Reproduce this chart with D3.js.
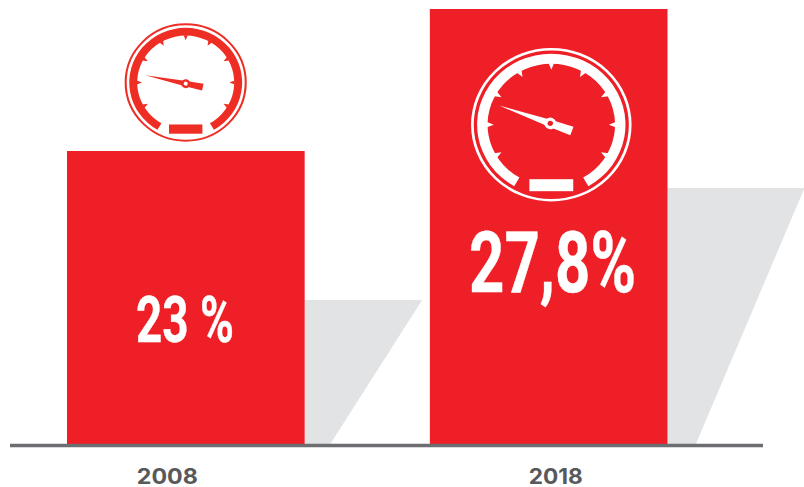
<!DOCTYPE html>
<html><head><meta charset="utf-8">
<script src="https://cdnjs.cloudflare.com/ajax/libs/d3/7.8.5/d3.min.js"></script>
<style>html,body{margin:0;padding:0;background:#fff}svg{display:block}</style>
</head><body><svg id="c" width="804" height="487"></svg>
<script>
const years = ["2008", "2018"];
const values = [23, 27.8];
const valueLabels = ["23 %", "27,8%"];
const shadowValues = [17.96, 21.75];
const needleAngles = [12, 20];

const svg = d3.select("#c");
const baseY = 445;
const x = d3.scaleBand().domain(years).range([67, 667.5]).paddingInner(0.345);
const y = d3.scaleLinear().domain([23, 27.8]).range([151, 9]);

// grey shadows
const shadowReach = [117.5, 137], shadowFoot = [25, 28];
svg.selectAll("path.shadow").data(years).join("path").attr("class", "shadow")
  .attr("fill", "#e2e3e5")
  .attr("d", (d, i) => {
    const r = x(d) + x.bandwidth(), t = y(shadowValues[i]);
    return d3.line()([[r, t], [r + shadowReach[i], t], [r + shadowFoot[i], baseY], [r, baseY]]) + "Z";
  });

// bars
svg.selectAll("rect.bar").data(years).join("rect").attr("class", "bar")
  .attr("x", d => x(d)).attr("width", x.bandwidth())
  .attr("y", (d, i) => y(values[i])).attr("height", (d, i) => baseY - y(values[i]))
  .attr("fill", "#ee1f26");

// baseline
svg.append("line").attr("x1", 10).attr("x2", 763).attr("y1", baseY + 0.5).attr("y2", baseY + 0.5)
  .attr("stroke", "#6d6e71").attr("stroke-width", 3.5);

// year labels
const labelDx = [-18.5, 7], labelW = [61, 54];
svg.selectAll("text.year").data(years).join("text").attr("class", "year")
  .attr("x", (d, i) => x(d) + x.bandwidth() / 2 + labelDx[i]).attr("y", 484)
  .attr("text-anchor", "middle").attr("fill", "#58595b")
  .attr("textLength", (d, i) => labelW[i]).attr("lengthAdjust", "spacingAndGlyphs")
  .attr("font-family", "Inter, Lato, sans-serif").attr("font-weight", 700).attr("font-size", 21.5)
  .text(d => d);

// value labels
const labelBox = [{x: 136, y: 342, w: 98, fs: 64}, {x: 469, y: 292, w: 167, fs: 86}];
svg.selectAll("text.value").data(valueLabels).join("text").attr("class", "value")
  .attr("x", (d, i) => labelBox[i].x).attr("y", (d, i) => labelBox[i].y)
  .attr("textLength", (d, i) => labelBox[i].w).attr("lengthAdjust", "spacingAndGlyphs")
  .attr("fill", "#fff").attr("stroke", "#fff").attr("stroke-width", 0.4)
  .attr("font-family", "'Liberation Sans Narrow', Roboto, sans-serif")
  .attr("font-weight", 700).attr("font-size", (d, i) => labelBox[i].fs)
  .text(d => d);

// gauges
const gauges = [
  {cx: 185.7, cy: 82.5, sx: 0.795, sy: 0.77, color: "#ee2e24", hole: "#fff", px: 0, py: 1.5},
  {cx: 551.3, cy: 124.7, sx: 1.045, sy: 1.0, color: "#fff", hole: "#ee1f26", px: -1, py: -1.3}
];
const rad = Math.PI / 180;
const tickAngles = [-120, -90, -60, -30, 0, 30, 60, 90, 120];
gauges.forEach((g, i) => {
  const s = svg.append("g").attr("transform", `translate(${g.cx},${g.cy}) scale(${g.sx},${g.sy})`);
  s.append("circle").attr("r", 75.5).attr("fill", "none").attr("stroke", g.color).attr("stroke-width", 2.6);
  s.append("path").attr("fill", g.color)
    .attr("d", d3.arc()({innerRadius: 61, outerRadius: 71, startAngle: -150 * rad, endAngle: 150 * rad}));
  s.selectAll("path.t").data(tickAngles).join("path").attr("class", "t").attr("fill", g.color)
    .attr("d", "M-2.6,-61.5L2.6,-61.5L0,-55Z").attr("transform", d => `rotate(${d})`);
  const n = s.append("g").attr("transform", `translate(${g.px},${g.py}) rotate(${needleAngles[i]})`);
  n.append("path").attr("fill", g.color).attr("d", "M-52,0L0,-3.6L22,-4.5L22,4.5L0,3.6Z");
  n.append("circle").attr("r", 5.8).attr("fill", g.color);
  n.append("circle").attr("r", 2.6).attr("fill", g.hole);
  s.append("rect").attr("x", -21).attr("y", 54.5).attr("width", 42).attr("height", 12).attr("fill", g.color);
});
</script></body></html>
